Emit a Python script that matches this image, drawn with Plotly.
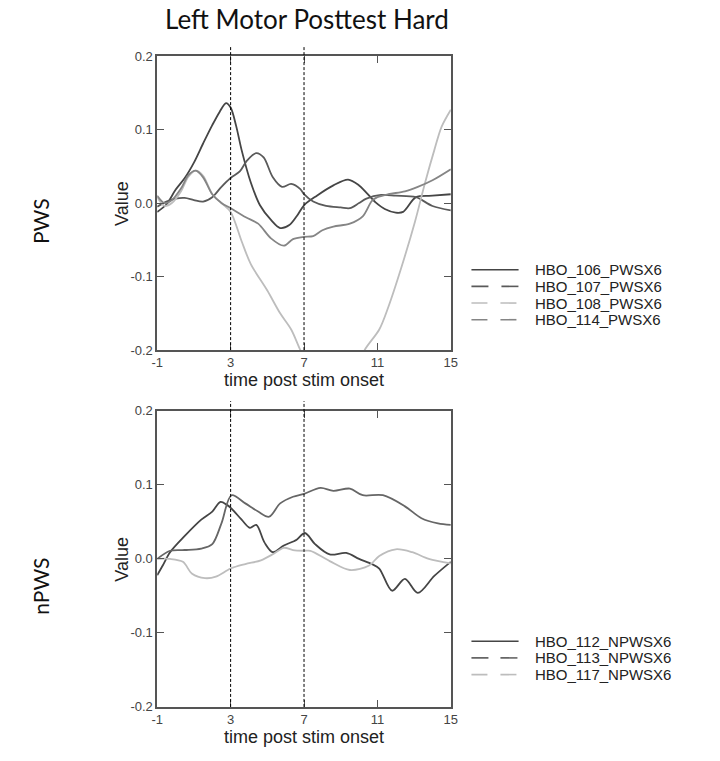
import plotly.graph_objects as go

# ---- HbO time courses, left motor channels, posttest hard condition ----
# PWS group
x_106 = [-1, -0.5, 0, 0.5, 1, 1.5, 2, 2.4, 2.75, 3.0, 3.3, 3.6, 4.1, 4.6, 5.2, 5.7, 6.2, 6.6, 7.0,
         7.7, 8.6, 9.4, 10.0, 10.9, 11.4, 12.0, 12.4, 13.1, 14.0, 15]
y_106 = [-0.012, -0.002, 0.018, 0.034, 0.055, 0.081, 0.106, 0.124, 0.136, 0.130, 0.105, 0.072, 0.028,
         -0.003, -0.023, -0.034, -0.030, -0.018, -0.003, 0.010, 0.024, 0.032, 0.024, 0.001, -0.008,
         -0.013, -0.012, 0.008, 0.010, 0.012]

x_107 = [-1, -0.5, 0, 0.5, 1, 1.5, 2, 2.5, 3, 3.5, 3.9, 4.4, 4.8, 5.3, 5.8, 6.3, 6.8, 7.0, 7.5, 8.2,
         9.0, 9.5, 10.0, 10.4, 11.2, 12.0, 13.1, 14.0, 15]
y_107 = [-0.005, 0.002, 0.006, 0.007, 0.004, 0.002, 0.008, 0.022, 0.034, 0.043, 0.058, 0.068, 0.062,
         0.035, 0.022, 0.026, 0.019, 0.012, 0.002, -0.004, -0.006, -0.007, 0.000, 0.006, 0.011, 0.010,
         0.008, -0.004, -0.010]

x_108 = [-1, -0.6, -0.2, 0.3, 0.7, 1.1, 1.5, 2.0, 2.5, 3.0, 3.6, 4.1, 5.0, 5.7, 6.3, 6.8, 7.5, 8.5,
         9.5, 10.3, 11.1, 11.6, 12.3, 13.05, 13.6, 14.1, 14.5, 15]
y_108 = [0.008, -0.004, 0.000, 0.016, 0.036, 0.044, 0.037, 0.012, 0.000, -0.012, -0.052, -0.083,
         -0.119, -0.150, -0.172, -0.200, -0.235, -0.260, -0.245, -0.200, -0.172, -0.141, -0.088,
         -0.025, 0.028, 0.072, 0.104, 0.127]

x_114 = [-1, -0.6, -0.2, 0.3, 0.7, 1.1, 1.5, 2.0, 2.5, 3.0, 3.8, 4.5, 5.2, 5.9, 6.4, 7.0, 7.5, 8.0,
         8.6, 9.5, 10.2, 10.7, 11.0, 11.6, 12.5, 13.2, 14.0, 15]
y_114 = [0.010, 0.000, 0.004, 0.020, 0.038, 0.044, 0.035, 0.012, 0.000, -0.007, -0.019, -0.028,
         -0.048, -0.058, -0.049, -0.046, -0.045, -0.037, -0.032, -0.028, -0.018, 0.003, 0.008,
         0.012, 0.016, 0.022, 0.031, 0.046]

# nPWS group
x_112 = [-1, -0.7, -0.3, 0.5, 1.4, 2.0, 2.45, 2.8, 3.05, 3.6, 4.05, 4.4, 4.85, 5.3, 5.9, 6.6, 7.05,
         7.6, 8.4, 9.3, 10.0, 10.7, 11.1, 11.8, 12.5, 13.2, 14.1, 15]
y_112 = [-0.022, -0.009, 0.009, 0.031, 0.053, 0.064, 0.077, 0.073, 0.068, 0.053, 0.042, 0.046, 0.022,
         0.009, 0.018, 0.026, 0.035, 0.020, 0.006, 0.008, 0.000, -0.007, -0.013, -0.043, -0.027,
         -0.046, -0.023, -0.004]

x_113 = [-1, -0.3, 0.5, 1.4, 2.0, 2.5, 3.05, 3.8, 4.5, 5.1, 5.7, 6.4, 7.0, 7.9, 8.6, 9.5, 10.2,
         11.3, 12.5, 13.4, 14.3, 15]
y_113 = [0.000, 0.011, 0.012, 0.014, 0.020, 0.048, 0.086, 0.075, 0.064, 0.057, 0.075, 0.084, 0.088,
         0.096, 0.092, 0.095, 0.086, 0.086, 0.071, 0.055, 0.048, 0.046]

x_117 = [-1, -0.3, 0.4, 0.9, 1.6, 2.2, 3.0, 3.8, 4.65, 5.35, 5.9, 6.4, 7.0, 7.35, 8.4, 9.5, 10.55,
         11.1, 12.0, 12.9, 13.8, 15]
y_117 = [0.000, 0.000, -0.004, -0.020, -0.026, -0.024, -0.013, -0.007, -0.002, 0.007, 0.015, 0.012,
         0.011, 0.011, -0.003, -0.015, -0.009, 0.004, 0.013, 0.009, 0.000, -0.006]

names_pws = ["HBO_106_PWSX6", "HBO_107_PWSX6", "HBO_108_PWSX6", "HBO_114_PWSX6"]
names_npws = ["HBO_112_NPWSX6", "HBO_113_NPWSX6", "HBO_117_NPWSX6"]

x_ticks = [-1, 3, 7, 11, 15]
y_ticks = [-0.2, -0.1, 0.0, 0.1, 0.2]
y_tick_text = ["-0.2", "-0.1", "0.0", "0.1", "0.2"]
stim_marks = [3, 7]

# ---- styling ----
W, H = 720, 761
colors_pws = ["#454545", "#5a5a5a", "#bdbdbd", "#858585"]
dashes_pws = ["solid", "17px,13px", "16px,13px", "16px,13px"]
colors_npws = ["#454545", "#666666", "#bdbdbd"]
dashes_npws = ["solid", "17px,12px", "16px,13px"]


def fx(p):
    return p / W


def fy(p):
    return 1 - p / H


fig = go.Figure()

series_pws = [(x_106, y_106), (x_107, y_107), (x_108, y_108), (x_114, y_114)]
series_npws = [(x_112, y_112), (x_113, y_113), (x_117, y_117)]

for (xs, ys), name, col in zip(series_pws, names_pws, colors_pws):
    fig.add_trace(go.Scatter(x=xs, y=ys, name=name, mode="lines", xaxis="x", yaxis="y",
                             line=dict(color=col, width=1.8, shape="spline", smoothing=0.9),
                             showlegend=False, hoverinfo="skip"))

for (xs, ys), name, col in zip(series_npws, names_npws, colors_npws):
    fig.add_trace(go.Scatter(x=xs, y=ys, name=name, mode="lines", xaxis="x2", yaxis="y2",
                             line=dict(color=col, width=1.8, shape="spline", smoothing=0.9),
                             showlegend=False, hoverinfo="skip"))

tick_font = dict(family="Liberation Sans, Arial", size=13, color="#444")
axis_common = dict(showline=True, mirror="ticks", linecolor="#555", linewidth=1.5,
                   ticks="inside", ticklen=7, tickwidth=1.2, tickcolor="#555",
                   showgrid=False, zeroline=False, tickfont=tick_font, fixedrange=True)

x_dom = [fx(154), fx(453)]
top_dom = [fy(350), fy(50)]
bot_dom = [fy(714), fy(412)]

fig.update_layout(
    width=W, height=H,
    margin=dict(l=0, r=0, t=0, b=0),
    paper_bgcolor="white", plot_bgcolor="white",
    showlegend=False,
    xaxis=dict(domain=x_dom, anchor="y", range=[-1, 15], tickmode="array",
               tickvals=x_ticks, ticktext=[str(v) for v in x_ticks], **axis_common),
    yaxis=dict(domain=top_dom, anchor="x", range=[-0.2, 0.2], tickmode="array",
               tickvals=y_ticks, ticktext=y_tick_text, **axis_common),
    xaxis2=dict(domain=x_dom, anchor="y2", range=[-1, 15], tickmode="array",
                tickvals=x_ticks, ticktext=[str(v) for v in x_ticks], **axis_common),
    yaxis2=dict(domain=bot_dom, anchor="x2", range=[-0.2, 0.2], tickmode="array",
                tickvals=y_ticks, ticktext=y_tick_text, **axis_common),
    title=dict(text="Left Motor Posttest Hard", x=fx(307), xanchor="center",
               y=fy(20), yanchor="middle",
               font=dict(family="Lato", size=26, color="#111")),
)

# stimulus window markers
for xa, ya in [("x", "y"), ("x2", "y2")]:
    for m in stim_marks:
        fig.add_shape(type="line", xref=xa, yref=f"{ya} domain", x0=m, x1=m, y0=0, y1=1.033,
                      line=dict(color="black", width=1, dash="3px,2px"))

label_font = dict(family="Liberation Sans, Arial", size=18, color="#222")
ann = []
# axis titles
for yc in [200, 563]:
    ann.append(dict(text="Value", x=fx(118), y=fy(yc), xref="paper", yref="paper",
                    textangle=-90, showarrow=False, font=label_font,
                    xanchor="center", yanchor="middle"))
for yc in [380, 745]:
    ann.append(dict(text="time post stim onset", x=fx(303), y=fy(yc), xref="paper", yref="paper",
                    showarrow=False, font=label_font, xanchor="center", yanchor="middle"))
# group labels
group_font = dict(family="Lato", size=21, color="#111")
ann.append(dict(text="PWS", x=fx(35), y=fy(218), xref="paper", yref="paper", textangle=-90,
                showarrow=False, font=group_font, xanchor="center", yanchor="middle"))
ann.append(dict(text="nPWS", x=fx(35), y=fy(591), xref="paper", yref="paper", textangle=-90,
                showarrow=False, font=group_font, xanchor="center", yanchor="middle"))

# legends
leg_font = dict(family="Liberation Sans, Arial", size=15, color="#222")
row_gap = 17


def add_legend(names, cols, dashes, y0):
    for i, (nm, col, ds) in enumerate(zip(names, cols, dashes)):
        yc = y0 + row_gap * i
        fig.add_shape(type="line", xref="paper", yref="paper", x0=fx(474), x1=fx(522),
                      y0=fy(yc), y1=fy(yc), line=dict(color=col, width=1.6, dash=ds))
        ann.append(dict(text=nm, x=fx(537), y=fy(yc), xref="paper", yref="paper",
                        showarrow=False, font=leg_font, xanchor="left", yanchor="middle"))


add_legend(names_pws, colors_pws, dashes_pws, 268)
add_legend(names_npws, colors_npws, dashes_npws, 647)

fig.update_layout(annotations=ann)
fig.write_html("out.html")
